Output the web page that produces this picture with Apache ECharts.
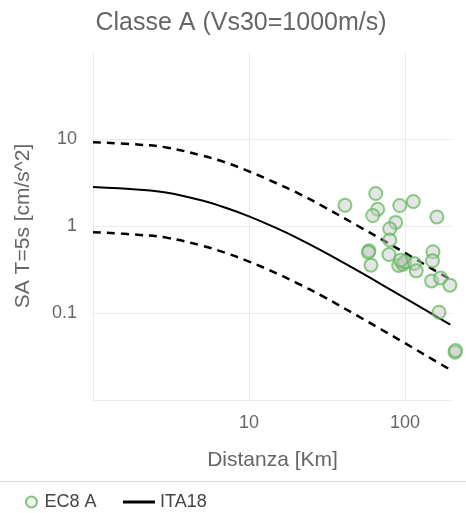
<!DOCTYPE html>
<html>
<head>
<meta charset="utf-8">
<script src="https://cdn.jsdelivr.net/npm/echarts@6/dist/echarts.min.js"></script>
<style>
html,body{margin:0;padding:0;background:#fff;}
#chart{width:466px;height:513px;}
</style>
</head>
<body>
<div id="chart"></div>
<script>
// ITA18 model curve (median and +/- sigma)
const distances = [1, 2, 3, 5, 7, 10, 15, 20, 30, 50, 70, 100, 150, 195];
const ita18 = [2.8, 2.61, 2.41, 1.96, 1.63, 1.29, 0.944, 0.74, 0.507, 0.304, 0.215, 0.148, 0.0968, 0.0735];
const ita18Upper = [9.2, 8.6, 7.95, 6.45, 5.4, 4.25, 3.1, 2.45, 1.67, 1.0, 0.71, 0.49, 0.32, 0.243];
const ita18Lower = [0.85, 0.79, 0.73, 0.594, 0.494, 0.39, 0.286, 0.224, 0.154, 0.092, 0.065, 0.045, 0.0293, 0.0223];

// EC8 A records: distance [km] and SA [cm/s^2]
const ec8Dist = [41.2, 64.9, 66.8, 62.1, 92.5, 113, 160, 87.1, 79.8, 79.8, 58.7, 58.2, 60.5, 78.9, 91, 97, 99.5, 93.8, 115, 118, 151, 150, 148, 169, 194, 165, 209, 211];
const ec8SA   = [1.73, 2.36, 1.56, 1.32, 1.72, 1.91, 1.27, 1.10, 0.93, 0.69, 0.52, 0.50, 0.355, 0.47, 0.352, 0.364, 0.388, 0.405, 0.371, 0.305, 0.506, 0.398, 0.234, 0.253, 0.209, 0.102, 0.0355, 0.037];

const xTickLabels = ['10', '100'];
const yTickLabels = ['0.1', '1', '10'];

const FONT = 'Liberation Sans, Arial, Helvetica, sans-serif';
const GREEN = '#5cb854';

function pair(xs, ys) { return xs.map((x, i) => [x, ys[i]]); }
function logLabel(labels) {
  return function (v) {
    const l = Math.log10(v);
    const e = Math.round(l);
    if (Math.abs(l - e) > 1e-6) return '';
    const s = labels.find(t => Math.abs(Math.log10(parseFloat(t)) - e) < 1e-6);
    return s || '';
  };
}

const chart = echarts.init(document.getElementById('chart'), null, {renderer: 'canvas'});
chart.setOption({
  animation: false,
  backgroundColor: '#fff',
  title: {
    text: 'Classe A (Vs30=1000m/s)',
    left: 236, textAlign: 'center', top: 6,
    textStyle: {fontFamily: FONT, fontSize: 25, fontWeight: 'normal', color: '#666'}
  },
  grid: {left: 93, right: 14, top: 52, bottom: 113, containLabel: false},
  xAxis: {
    type: 'log', logBase: 10, min: 1, max: 200,
    name: 'Distanza [Km]', nameLocation: 'middle', nameGap: 50,
    nameTextStyle: {fontFamily: FONT, fontSize: 21, color: '#666'},
    axisLine: {show: false}, axisTick: {show: false},
    axisLabel: {formatter: logLabel(xTickLabels), fontFamily: FONT, fontSize: 18, color: '#666', margin: 14},
    splitLine: {show: true, showMaxLine: false, lineStyle: {color: '#ebebeb', width: 1}}
  },
  yAxis: {
    type: 'log', logBase: 10, min: 0.01, max: 100,
    name: 'SA T=5s [cm/s^2]', nameLocation: 'middle', nameGap: 59, nameRotate: 90,
    nameTextStyle: {fontFamily: FONT, fontSize: 21, color: '#666'},
    axisLine: {show: false}, axisTick: {show: false},
    axisLabel: {formatter: logLabel(yTickLabels), fontFamily: FONT, fontSize: 18, color: '#666', margin: 16},
    splitLine: {show: true, showMaxLine: false, lineStyle: {color: '#ebebeb', width: 1}}
  },
  legend: [
    {
      left: 20, top: 488, itemWidth: 16, itemHeight: 11,
      data: [{name: 'EC8 A', icon: 'circle', itemStyle: {color: '#eee', borderColor: GREEN, borderWidth: 2}}],
      textStyle: {fontFamily: FONT, fontSize: 18, color: '#444'}
    },
    {
      left: 118, top: 488, itemWidth: 32, itemHeight: 3,
      data: [{name: 'ITA18', icon: 'rect', itemStyle: {color: '#000'}}],
      textStyle: {fontFamily: FONT, fontSize: 18, color: '#444'}
    }
  ],
  graphic: [{
    type: 'line', silent: true,
    shape: {x1: 0, y1: 481.5, x2: 466, y2: 481.5},
    style: {stroke: '#d8d8d8', lineWidth: 1}
  }],
  series: [
    {
      name: 'ITA18 +σ', type: 'line', data: pair(distances, ita18Upper),
      showSymbol: false, smooth: 0.4, color: '#000',
      lineStyle: {color: '#000', width: 2.5, type: [8, 6]}, z: 2
    },
    {
      name: 'ITA18 -σ', type: 'line', data: pair(distances, ita18Lower),
      showSymbol: false, smooth: 0.4, color: '#000',
      lineStyle: {color: '#000', width: 2.5, type: [8, 6]}, z: 2
    },
    {
      name: 'ITA18', type: 'line', data: pair(distances, ita18),
      showSymbol: false, smooth: 0.4, color: '#000',
      lineStyle: {color: '#000', width: 2}, z: 2
    },
    {
      name: 'EC8 A', type: 'scatter', data: pair(ec8Dist, ec8SA),
      symbol: 'circle', symbolSize: 13, clip: false,
      itemStyle: {color: 'rgba(200,200,200,0.6)', borderColor: 'rgba(92,184,84,0.9)', borderWidth: 2},
      z: 3
    }
  ]
});
</script>
</body>
</html>
